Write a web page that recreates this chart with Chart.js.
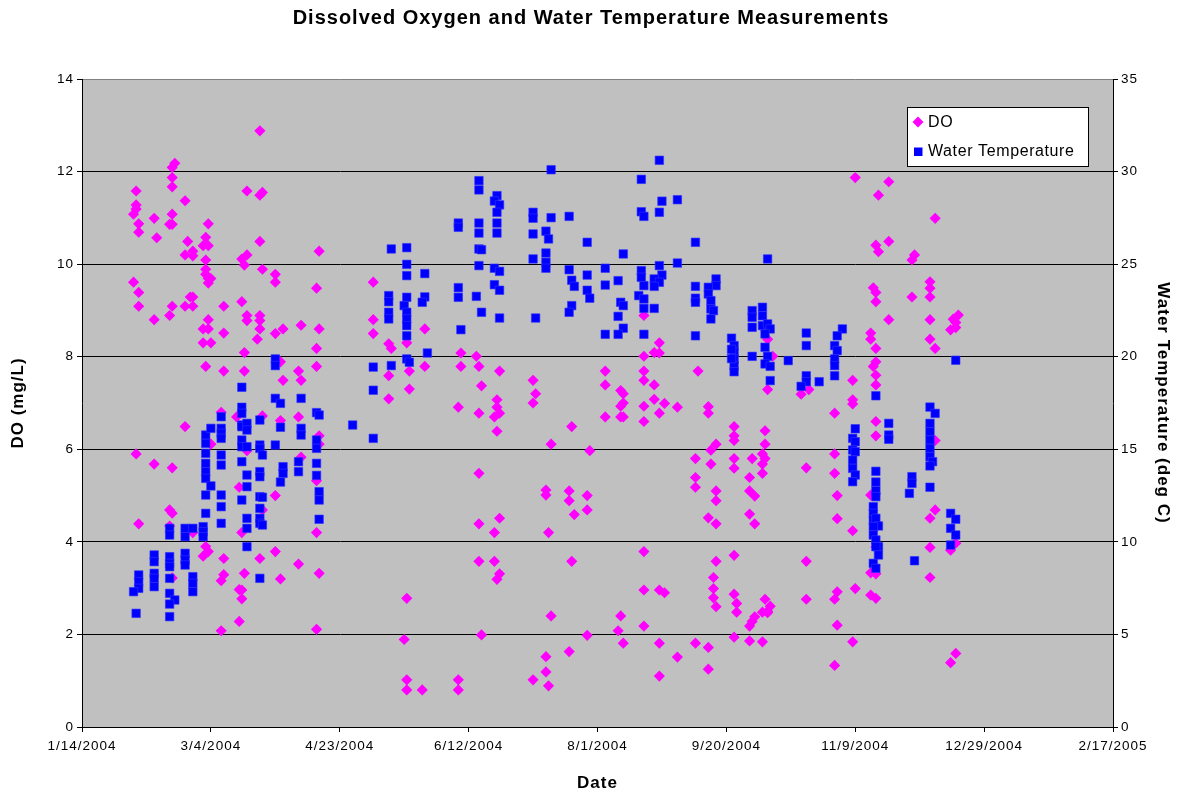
<!DOCTYPE html>
<html>
<head>
<meta charset="utf-8">
<title>Dissolved Oxygen and Water Temperature Measurements</title>
<script src="https://cdn.jsdelivr.net/npm/chart.js@4.4.1/dist/chart.umd.min.js"></script>
<style>
  html, body { margin: 0; padding: 0; background: #fff; }
  canvas { display: block; }
</style>
</head>
<body>
<canvas id="doChart" width="1182" height="797"></canvas>
<script>
// Sample dates are spreadsheet serial days (38000 = 1/14/2004)
const dateMin = 38000;
const dateMax = 38400;
const dateStep = 50;

// Dissolved oxygen, mg/L  [date, value]
const doReadings = [
  [38020, 9.61], [38020, 11.08], [38021, 11.58], [38021, 11.28], [38021, 11.19], [38021, 5.90],
  [38022, 10.87], [38022, 10.69], [38022, 9.39], [38022, 9.09], [38022, 4.39],
  [38028, 10.99], [38029, 10.57], [38028, 8.80], [38028, 5.68],
  [38036, 12.18], [38035, 12.09], [38035, 11.87], [38035, 11.67], [38035, 11.08], [38034, 10.86], [38035, 10.86],
  [38034, 8.89], [38035, 9.09], [38035, 5.60], [38034, 4.69], [38035, 4.62], [38034, 4.34], [38035, 3.22],
  [38040, 11.37], [38041, 10.49], [38040, 10.20], [38043, 10.28], [38043, 10.18], [38040, 9.09], [38043, 9.09],
  [38042, 9.29], [38043, 9.29], [38040, 6.49], [38043, 4.20],
  [38049, 10.87], [38048, 10.58], [38047, 10.40], [38049, 10.40], [38048, 10.09], [38048, 9.89], [38048, 9.78],
  [38049, 9.69], [38050, 9.69], [38049, 9.59], [38049, 8.80], [38047, 8.60], [38049, 8.60], [38047, 8.30],
  [38050, 8.30], [38048, 7.79], [38050, 6.11], [38048, 3.90], [38049, 3.79], [38047, 3.69],
  [38055, 9.09], [38055, 8.51], [38055, 7.69], [38054, 6.80], [38055, 3.64], [38055, 3.29], [38054, 3.16], [38054, 2.08],
  [38064, 11.58], [38064, 10.20], [38062, 10.11], [38063, 9.98], [38062, 9.19], [38064, 8.89], [38064, 8.78],
  [38063, 8.09], [38063, 7.69], [38060, 6.70], [38064, 5.97], [38061, 5.18], [38062, 4.20], [38063, 3.32],
  [38061, 2.97], [38062, 2.96], [38062, 2.77], [38061, 2.28],
  [38069, 12.88], [38069, 11.49], [38070, 11.55], [38069, 10.49], [38070, 9.89], [38069, 8.89], [38069, 8.78],
  [38069, 8.60], [38068, 8.38], [38070, 6.72], [38070, 4.69], [38069, 3.64],
  [38075, 9.78], [38075, 9.61], [38075, 8.50], [38078, 8.60], [38077, 7.89], [38078, 7.49], [38077, 6.62],
  [38075, 5.00], [38075, 3.79], [38077, 3.20],
  [38085, 8.68], [38084, 7.69], [38085, 7.49], [38084, 6.70], [38085, 5.83], [38084, 3.52],
  [38092, 10.28], [38091, 9.48], [38092, 8.60], [38091, 8.18], [38091, 7.79], [38092, 6.29], [38092, 6.11],
  [38091, 5.32], [38091, 4.20], [38092, 3.32], [38091, 2.11],
  [38113, 9.61], [38113, 8.80], [38113, 8.50],
  [38119, 8.28], [38120, 8.18], [38119, 7.59], [38119, 7.09],
  [38126, 8.30], [38127, 7.69], [38127, 7.30], [38126, 2.78], [38125, 1.89], [38126, 1.02], [38126, 0.80],
  [38133, 8.60], [38133, 7.79], [38132, 0.80],
  [38147, 8.08], [38147, 7.79], [38146, 6.91], [38146, 1.02], [38146, 0.80],
  [38153, 8.01], [38154, 7.79], [38155, 7.37], [38154, 6.78], [38154, 5.48], [38154, 4.39], [38154, 3.58], [38155, 1.99],
  [38162, 7.69], [38161, 7.07], [38161, 6.91], [38162, 6.78], [38160, 6.70], [38161, 6.39], [38162, 4.51],
  [38160, 4.20], [38160, 3.58], [38162, 3.31], [38161, 3.19],
  [38175, 7.49], [38176, 7.20], [38175, 7.00], [38175, 1.02],
  [38180, 5.12], [38180, 5.01], [38181, 4.20], [38180, 1.52], [38180, 1.19], [38181, 0.89], [38182, 6.11], [38182, 2.40],
  [38190, 6.49], [38189, 5.10], [38189, 4.89], [38191, 4.59], [38190, 3.58], [38189, 1.63],
  [38197, 5.97], [38196, 5.00], [38196, 4.69], [38196, 1.98],
  [38203, 7.69], [38203, 7.39], [38203, 6.70],
  [38209, 7.27], [38210, 7.20], [38209, 6.93], [38210, 7.00], [38209, 6.70], [38210, 6.70], [38209, 2.40],
  [38208, 2.08], [38210, 1.81],
  [38218, 8.89], [38218, 8.01], [38218, 7.69], [38218, 7.49], [38218, 6.93], [38218, 6.60], [38218, 3.79],
  [38218, 2.96], [38218, 2.18],
  [38224, 8.30], [38222, 8.09], [38224, 8.08], [38222, 7.39], [38222, 7.08], [38226, 6.99], [38224, 6.78],
  [38224, 2.96], [38226, 2.90], [38224, 1.81], [38224, 1.10],
  [38231, 6.91], [38231, 1.51],
  [38239, 7.69], [38238, 5.80], [38238, 5.39], [38238, 5.18], [38238, 1.81],
  [38243, 6.92], [38243, 6.78], [38246, 6.11], [38244, 5.98], [38244, 5.68], [38246, 5.10], [38246, 4.89],
  [38243, 4.52], [38246, 4.39], [38246, 3.58], [38245, 3.23], [38245, 2.99], [38245, 2.79], [38246, 2.60],
  [38243, 1.72], [38243, 1.25],
  [38253, 6.49], [38253, 6.29], [38253, 6.19], [38253, 5.80], [38253, 5.59], [38253, 3.71], [38253, 2.87],
  [38254, 2.67], [38254, 2.48], [38253, 1.94],
  [38260, 5.80], [38259, 5.39], [38259, 5.10], [38261, 4.99], [38259, 4.60], [38261, 4.39], [38261, 2.38],
  [38260, 2.28], [38259, 2.18], [38259, 1.86],
  [38266, 8.38], [38268, 8.01], [38266, 7.29], [38265, 6.40], [38265, 6.11], [38264, 5.90], [38265, 5.80],
  [38264, 5.68], [38264, 5.48], [38265, 2.76], [38267, 2.61], [38266, 2.50], [38264, 2.48], [38266, 2.47], [38264, 1.84],
  [38279, 7.19], [38282, 7.29], [38281, 5.60], [38281, 3.58], [38281, 2.76],
  [38292, 6.78], [38292, 5.90], [38292, 5.48], [38293, 5.00], [38293, 4.50], [38293, 2.92], [38292, 2.76],
  [38293, 2.20], [38292, 1.33],
  [38300, 11.87], [38299, 7.49], [38299, 7.07], [38299, 6.98], [38299, 4.24], [38300, 2.99], [38299, 1.84],
  [38309, 11.49], [38308, 10.41], [38309, 10.27], [38307, 9.49], [38308, 9.39], [38308, 9.19], [38306, 8.51],
  [38306, 8.38], [38308, 8.18], [38308, 7.89], [38307, 7.79], [38308, 7.60], [38308, 7.39], [38308, 6.60],
  [38308, 6.29], [38306, 5.01], [38308, 3.89], [38306, 3.33], [38308, 3.31], [38306, 2.85], [38308, 2.78],
  [38313, 11.78], [38313, 10.49], [38313, 8.80],
  [38323, 10.20], [38322, 10.09], [38322, 9.29],
  [38331, 10.99], [38329, 9.62], [38329, 9.48], [38329, 9.29], [38329, 8.80], [38329, 8.38], [38331, 8.18],
  [38331, 6.19], [38331, 4.69], [38329, 4.51], [38329, 3.88], [38329, 3.23],
  [38337, 8.58], [38339, 8.63], [38340, 8.90], [38338, 8.81], [38339, 8.74], [38337, 3.82], [38339, 3.97],
  [38337, 1.39], [38339, 1.59]
];

// Water temperature, deg C  [date, value]
const tempReadings = [
  [38022, 8.21], [38022, 7.85], [38022, 7.49], [38020, 7.31], [38021, 6.14],
  [38028, 9.29], [38028, 8.93], [38028, 8.30], [38028, 8.03], [38028, 7.58],
  [38034, 10.73], [38034, 10.37], [38034, 9.20], [38034, 8.84], [38034, 8.66], [38034, 8.03], [38034, 7.22],
  [38036, 6.86], [38034, 6.64], [38034, 5.96],
  [38040, 10.73], [38040, 10.28], [38040, 9.38], [38040, 9.02], [38040, 8.75],
  [38043, 10.73], [38043, 8.12], [38043, 7.76], [38043, 7.31],
  [38047, 10.82], [38047, 10.55], [38047, 10.28], [38048, 15.77], [38050, 16.13], [38048, 15.32], [38048, 14.78],
  [38048, 14.24], [38048, 13.79], [38048, 13.43], [38050, 13.02], [38048, 12.53], [38048, 11.54],
  [38054, 16.76], [38054, 16.13], [38054, 15.86], [38054, 15.59], [38054, 14.69], [38054, 14.15], [38054, 12.53],
  [38054, 11.90], [38054, 11.00],
  [38062, 18.35], [38062, 17.27], [38062, 16.94], [38062, 16.31], [38062, 16.22], [38062, 15.50], [38062, 15.14],
  [38062, 14.33], [38062, 12.26],
  [38064, 16.40], [38064, 16.04], [38064, 15.14], [38064, 13.61], [38064, 12.98], [38064, 11.27], [38064, 10.73], [38064, 9.74],
  [38069, 16.58], [38069, 15.23], [38069, 15.05], [38069, 13.79], [38069, 13.52], [38069, 12.44], [38069, 11.81],
  [38069, 11.27], [38069, 11.00], [38069, 8.03], [38070, 14.69], [38070, 12.41], [38070, 10.91],
  [38075, 19.88], [38075, 19.52], [38075, 17.75], [38077, 17.48], [38077, 16.19], [38075, 15.23], [38078, 14.06],
  [38078, 13.70], [38077, 13.23],
  [38085, 17.75], [38085, 16.13], [38085, 15.77], [38084, 14.33], [38084, 13.79],
  [38091, 16.98], [38092, 16.85], [38091, 15.50], [38091, 15.05], [38091, 14.24], [38091, 13.59], [38092, 12.71],
  [38092, 12.26], [38092, 11.22],
  [38105, 16.31],
  [38113, 19.44], [38113, 18.19], [38113, 15.59],
  [38120, 25.82], [38119, 23.30], [38119, 22.97], [38119, 22.40], [38119, 22.04], [38120, 19.52],
  [38126, 25.89], [38126, 24.99], [38126, 24.38], [38126, 23.21], [38125, 22.76], [38126, 22.40], [38126, 22.04],
  [38126, 21.68], [38126, 21.13], [38126, 19.88], [38127, 19.70],
  [38133, 24.49], [38133, 23.23], [38132, 22.94], [38134, 20.20],
  [38146, 27.22], [38146, 26.99], [38146, 23.73], [38146, 23.21], [38147, 21.46],
  [38154, 29.51], [38154, 29.01], [38154, 27.22], [38154, 26.68], [38154, 25.82], [38155, 25.78], [38154, 24.92],
  [38153, 23.26], [38155, 22.40],
  [38161, 28.70], [38160, 28.41], [38162, 28.20], [38161, 27.80], [38161, 27.22], [38161, 26.68], [38160, 24.78],
  [38162, 24.61], [38160, 23.89], [38162, 23.59], [38162, 22.09],
  [38175, 27.80], [38175, 27.48], [38175, 26.63], [38175, 25.28], [38176, 22.09],
  [38182, 30.10], [38182, 27.51], [38180, 26.78], [38181, 26.36], [38180, 25.60], [38180, 25.10], [38180, 24.78],
  [38189, 27.58], [38189, 24.70], [38190, 24.13], [38191, 23.80], [38190, 22.76], [38189, 22.40],
  [38196, 26.18], [38196, 24.41], [38196, 23.59], [38197, 23.16],
  [38203, 24.78], [38203, 23.87], [38203, 21.21],
  [38210, 25.55], [38208, 24.11], [38209, 22.94], [38210, 22.76], [38208, 22.18], [38210, 21.54], [38208, 21.21],
  [38217, 29.58], [38217, 27.83], [38218, 27.58], [38217, 24.65], [38217, 24.29], [38218, 23.84], [38216, 23.30],
  [38218, 23.12], [38218, 22.61], [38218, 21.21],
  [38224, 30.61], [38225, 28.40], [38224, 27.80], [38224, 24.92], [38225, 24.41], [38222, 24.20], [38224, 24.02],
  [38222, 23.80], [38222, 22.61],
  [38231, 28.48], [38231, 25.06],
  [38238, 26.18], [38238, 23.80], [38238, 23.16], [38238, 22.94], [38238, 21.13],
  [38246, 24.20], [38246, 23.84], [38243, 23.75], [38243, 23.39], [38244, 23.03], [38244, 22.58], [38245, 22.49], [38244, 22.04],
  [38252, 21.00], [38253, 20.60], [38253, 20.24], [38253, 19.88], [38253, 19.52], [38253, 19.19], [38252, 20.40], [38252, 19.90],
  [38260, 22.49], [38260, 22.13], [38260, 21.59], [38260, 20.02],
  [38264, 22.67], [38264, 22.21], [38264, 21.68], [38266, 21.77], [38267, 21.50], [38265, 21.23], [38265, 20.51],
  [38266, 20.02], [38265, 19.61], [38267, 19.48], [38267, 18.71], [38266, 25.28],
  [38274, 19.79],
  [38281, 21.28], [38281, 20.60], [38281, 18.97], [38281, 18.65], [38279, 18.40],
  [38286, 18.65],
  [38295, 21.50], [38293, 21.13], [38292, 20.60], [38293, 20.33], [38292, 19.88], [38292, 19.52], [38292, 18.97],
  [38300, 16.11], [38299, 15.59], [38300, 15.41], [38299, 14.96], [38300, 14.87], [38299, 14.42], [38299, 13.97],
  [38300, 13.61], [38299, 13.25],
  [38308, 17.89], [38308, 13.81], [38308, 13.23], [38308, 12.76], [38308, 12.44], [38307, 11.90], [38307, 11.54],
  [38307, 11.18], [38308, 11.27], [38309, 10.86], [38307, 10.82], [38307, 10.37], [38308, 10.10], [38309, 9.74],
  [38308, 9.74], [38309, 9.29], [38307, 8.84], [38308, 8.57],
  [38313, 16.40], [38313, 15.77], [38313, 15.54],
  [38322, 13.52], [38322, 13.16], [38321, 12.62], [38323, 8.98],
  [38329, 17.28], [38331, 16.94], [38329, 16.40], [38329, 15.95], [38329, 15.50], [38329, 15.05], [38329, 14.60],
  [38330, 14.33], [38329, 14.10], [38329, 12.95],
  [38339, 19.81], [38337, 11.54], [38339, 11.22], [38337, 10.73], [38339, 10.37], [38337, 9.83]
];

const doColor = '#FF00FF';
const tempColor = '#0000FF';
const plotGray = '#C0C0C0';
const fontFamily = '"Liberation Sans", Arial, sans-serif';

// serial day -> m/d/yyyy
function serialToLabel(serial) {
  const d = new Date(Date.UTC(1899, 11, 30) + serial * 86400000);
  return (d.getUTCMonth() + 1) + '/' + d.getUTCDate() + '/' + d.getUTCFullYear();
}

Chart.defaults.font.family = fontFamily;
Chart.defaults.color = '#000';

// gray plot area, drawn under the grid
const plotBackground = {
  id: 'plotBackground',
  beforeDraw(chart) {
    const { ctx, chartArea: a } = chart;
    ctx.save();
    ctx.fillStyle = plotGray;
    ctx.fillRect(a.left, a.top, a.right - a.left, a.bottom - a.top);
    ctx.restore();
    chart.ctx.letterSpacing = '1px';
  }
};

// boxed legend inside the top right of the plot
const boxLegend = {
  id: 'boxLegend',
  afterDraw(chart) {
    const ctx = chart.ctx;
    ctx.save();
    ctx.letterSpacing = '0.6px';
    ctx.fillStyle = '#fff';
    ctx.strokeStyle = '#000';
    ctx.lineWidth = 1;
    ctx.fillRect(907.5, 107.5, 181, 59);
    ctx.strokeRect(907.5, 107.5, 181, 59);

    // diamond
    ctx.fillStyle = doColor;
    ctx.beginPath();
    ctx.moveTo(918, 116.5);
    ctx.lineTo(923.5, 122);
    ctx.lineTo(918, 127.5);
    ctx.lineTo(912.5, 122);
    ctx.closePath();
    ctx.fill();
    // square
    ctx.fillStyle = tempColor;
    ctx.fillRect(914, 147.5, 8.5, 8.5);

    ctx.fillStyle = '#000';
    ctx.font = '16px ' + fontFamily;
    ctx.textBaseline = 'middle';
    ctx.textAlign = 'left';
    ctx.fillText('DO', 928, 123);
    ctx.fillText('Water Temperature', 928, 152);
    ctx.restore();
  }
};

const ctx = document.getElementById('doChart').getContext('2d');
const chart = new Chart(ctx, {
  type: 'scatter',
  data: {
    datasets: [
      {
        label: 'DO',
        data: doReadings.map(([x, y]) => ({ x, y })),
        yAxisID: 'y',
        order: 1,
        pointStyle: 'rectRot',
        pointRadius: 5.6,
        backgroundColor: doColor,
        borderColor: doColor,
        borderWidth: 0
      },
      {
        label: 'Water Temperature',
        data: tempReadings.map(([x, y]) => ({ x, y })),
        yAxisID: 'y1',
        order: 0,
        pointStyle: 'rect',
        pointRadius: 6,
        backgroundColor: tempColor,
        borderColor: '#3333ff',
        borderWidth: 0.6
      }
    ]
  },
  options: {
    responsive: false,
    animation: false,
    layout: { padding: 0 },
    plugins: {
      legend: { display: false },
      tooltip: { enabled: false },
      title: {
        display: true,
        text: 'Dissolved Oxygen and Water Temperature Measurements',
        font: { size: 20, weight: 'bold' },
        color: '#000',
        padding: { top: 6, bottom: 49 }
      }
    },
    scales: {
      x: {
        type: 'linear',
        min: dateMin,
        max: dateMax,
        afterFit(scale) { scale.height = 70; },
        ticks: {
          stepSize: dateStep,
          autoSkip: false,
          maxRotation: 0,
          padding: 6,
          font: { size: 13.5 },
          callback: (v) => serialToLabel(v)
        },
        grid: { drawOnChartArea: false, tickLength: 5, tickColor: '#000' },
        border: { color: '#000' },
        title: {
          display: true,
          text: 'Date',
          font: { size: 17, weight: 'bold' },
          padding: { top: 0, bottom: 3 }
        }
      },
      y: {
        position: 'left',
        min: 0,
        max: 14,
        afterFit(scale) { scale.width = 82; },
        ticks: { stepSize: 2, padding: 3, font: { size: 13.5 } },
        grid: {
          color: (c) => (c.tick && c.tick.value === 14 ? '#808080' : '#000'),
          tickColor: '#000',
          tickLength: 5
        },
        border: { color: '#000' },
        title: {
          display: true,
          text: 'DO (mg/L)',
          font: { size: 17, weight: 'bold' },
          padding: { top: 8, bottom: 0 }
        }
      },
      y1: {
        position: 'right',
        min: 0,
        max: 35,
        afterFit(scale) { scale.width = 69; },
        ticks: { stepSize: 5, padding: 3, font: { size: 13.5 } },
        grid: { drawOnChartArea: false, tickColor: '#000', tickLength: 5 },
        border: { color: '#000' },
        title: {
          display: true,
          text: 'Water Temperature (deg C)',
          font: { size: 17, weight: 'bold' },
          padding: { top: 9, bottom: 0 }
        }
      }
    }
  },
  plugins: [plotBackground, boxLegend]
});
</script>
</body>
</html>
